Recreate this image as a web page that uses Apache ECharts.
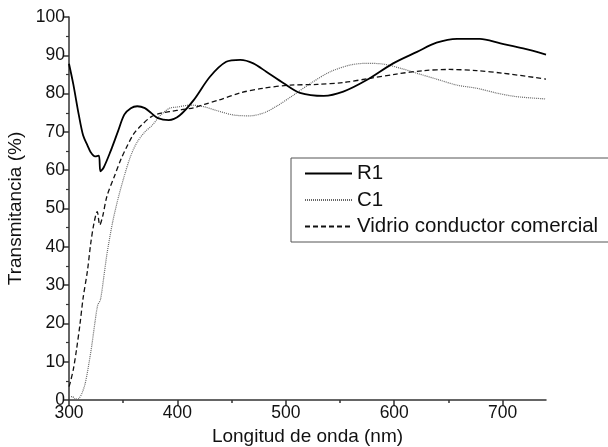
<!DOCTYPE html>
<html><head><meta charset="utf-8">
<script src="https://cdn.jsdelivr.net/npm/echarts@6/dist/echarts.min.js"></script>
<style>html,body{margin:0;padding:0;background:#fff}#c{width:608px;height:447px}</style>
</head><body><div id="c"></div>
<script>
const xTicks = [300, 400, 500, 600, 700];
const yTicks = [0, 10, 20, 30, 40, 50, 60, 70, 80, 90, 100];
const seriesNames = ['R1', 'C1', 'Vidrio conductor comercial'];

const r1X = [300,304,309,313,317,320,324,327.5,329,332,338,345,351,357,363,370,376,382,392,402,415,430,445,458,470,482,498,513,535,553,575,599,621,639,658,679,698,719,740];
const r1Y = [87.8,82.4,74.5,69.1,66.5,64.7,63.6,63.8,59.7,60.7,64.7,70,74.5,76.2,76.7,76.2,74.9,73.6,73.1,74.3,78.3,84.4,88.3,88.8,87.9,85.7,82.7,80.2,79.4,80.5,83.6,87.9,90.9,93.3,94.3,94.3,93.1,91.8,90.2];

const c1X = [300,303,306,309,312,315,318,321,324,326.5,329,332,335,340,345,351,357,363,370,377,382,387,393,400,412,424,437,452,467,480,492,507,523,541,560,575,590,606,621,640,658,676,695,713,740];
const c1Y = [0.9,0.9,0.2,0.4,1.8,4.4,8.9,14.2,20.4,24.8,26.2,31.9,38.1,46.1,52.3,58.5,63.8,67.4,70,71.8,73.6,75,76.2,76.5,77,76.6,75.5,74.4,74.2,75,76.8,79.6,82.7,85.7,87.5,87.9,87.7,86.6,85.3,83.7,82.2,81.4,80.1,79.2,78.6];

const vX = [300,301,304,307,310,313,317,320,323,326,328.4,331,335,342,348,354,360,367,376,385,395,404,415,425,438,458,479,504,529,553,578,602,627,651,676,701,740];
const vY = [3.5,4.4,8,13.3,19.5,26.6,33.7,40.8,46.1,49.2,45.7,47.9,53.2,58.5,62.9,66.5,69.6,71.8,74,74.9,75.4,75.8,76.3,77.2,78.3,80.2,81.4,82.2,82.4,82.9,84,85.1,86,86.3,86,85.3,83.8];

function pairs(xs, ys){ return xs.map((x,i)=>[x, ys[i]]); }

const chart = echarts.init(document.getElementById('c'), null, {renderer:'canvas'});
const font = 'Liberation Sans, Arial, sans-serif';
const axisColor = '#333';
chart.setOption({
  animation: false,
  backgroundColor: '#fff',
  textStyle: {fontFamily: font},
  grid: {left: 69, right: 62, top: 17, bottom: 47, containLabel: false, outerBoundsMode: 'none'},
  legend: {
    orient: 'vertical', left: 291, top: 158,
    padding: [5, 60, 5, 13], itemGap: 5.5, itemWidth: 47, itemHeight: 12,
    borderColor: '#555', borderWidth: 1, backgroundColor: '#fff',
    itemStyle: {opacity: 0},
    textStyle: {fontSize: 20.5, color: '#111', fontFamily: font},
    data: seriesNames
  },
  xAxis: [{
    type: 'value', min: 300, max: 740, interval: 100,
    name: 'Longitud de onda (nm)', nameLocation: 'middle', nameGap: 22,
    nameTextStyle: {fontSize: 19, color: '#111'},
    axisLine: {lineStyle: {color: axisColor, width: 1.5}},
    axisTick: {customValues: xTicks, length: 6, lineStyle: {color: axisColor, width: 1.5}},
    axisLabel: {customValues: xTicks, fontSize: 17.5, color: '#111', margin: 4},
    splitLine: {show: false}
  }, {
    type: 'value', min: 300, max: 740, position: 'bottom',
    axisLine: {show: false},
    axisTick: {customValues: [350,450,550,650], length: 3, lineStyle: {color: axisColor, width: 1.5}},
    axisLabel: {show: false}, splitLine: {show: false}
  }],
  yAxis: {
    type: 'value', min: 0, max: 100, interval: 10,
    name: 'Transmitancia (%)', nameLocation: 'middle', nameGap: 40,
    nameTextStyle: {fontSize: 19, color: '#111'},
    axisLine: {show: true, lineStyle: {color: axisColor, width: 1.5}},
    axisTick: {show: true, length: 6, lineStyle: {color: axisColor, width: 1.5}},
    minorTick: {show: true, splitNumber: 2, length: 3, lineStyle: {color: axisColor, width: 1.2}},
    axisLabel: {fontSize: 17.5, color: '#111', margin: 4, formatter: v => yTicks.includes(v) ? String(v) : ''},
    splitLine: {show: false}
  },
  series: [
    {name: seriesNames[0], type: 'line', data: pairs(r1X, r1Y), symbol: 'none', smooth: 0.3,
     lineStyle: {color: '#000', width: 1.8, type: 'solid'}, itemStyle: {color: '#000'}, z: 3},
    {name: seriesNames[1], type: 'line', data: pairs(c1X, c1Y), symbol: 'none', smooth: 0.3,
     lineStyle: {color: '#666', width: 1.2, type: [1, 1]}, itemStyle: {color: '#666'}, z: 2},
    {name: seriesNames[2], type: 'line', data: pairs(vX, vY), symbol: 'none', smooth: 0.3,
     lineStyle: {color: '#111', width: 1.3, type: [5, 3]}, itemStyle: {color: '#111'}, z: 2}
  ]
});
</script></body></html>
